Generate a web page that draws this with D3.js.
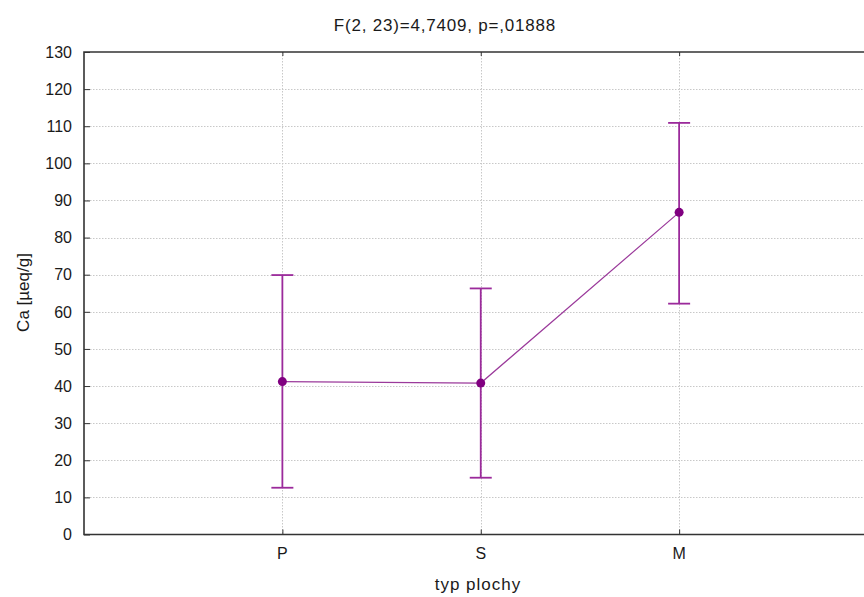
<!DOCTYPE html>
<html><head><meta charset="utf-8">
<script src="https://cdn.jsdelivr.net/npm/d3@7"></script>
<style>body{margin:0;background:#fff}svg{display:block}text{font-family:"Liberation Sans",Arial,sans-serif;fill:#1a1a1a}</style>
</head><body><svg id="c" width="864" height="597"></svg>
<script>
const categories = ["P", "S", "M"];
const means = [41.2, 40.8, 86.8];
const upper = [69.9, 66.3, 110.9];
const lower = [12.6, 15.3, 62.2];
const yTicks = [0,10,20,30,40,50,60,70,80,90,100,110,120,130];
const title = "F(2, 23)=4,7409, p=,01888";
const xLabel = "typ plochy";
const yLabel = "Ca [µeq/g]";

const svg = d3.select("#c");
const L = 84, T = 52, B = 534.5, R = 877.5;
const x = d3.scalePoint().domain(["", ...categories, " "]).range([L, R]);
const y = d3.scaleLinear().domain([0, 130]).range([B, T]);
const col = "#800080";

// grid
svg.append("g").selectAll("line").data(yTicks.slice(1, -1)).join("line")
  .attr("x1", L).attr("x2", R).attr("y1", d => Math.round(y(d)) + 0.5).attr("y2", d => Math.round(y(d)) + 0.5)
  .attr("stroke", "#c8c8c8").attr("stroke-dasharray", "1.5,1.5");
svg.append("g").selectAll("line").data(categories).join("line")
  .attr("x1", d => Math.round(x(d)) + 0.5).attr("x2", d => Math.round(x(d)) + 0.5).attr("y1", T).attr("y2", B)
  .attr("stroke", "#c8c8c8").attr("stroke-dasharray", "1.5,1.5");

// axes
const ya = svg.append("g").attr("transform", `translate(${L},0)`)
  .call(d3.axisRight(y).tickValues(yTicks).tickSize(6).tickFormat(""));
ya.select(".domain").remove();
ya.selectAll("line").attr("stroke", "#333");
svg.append("g").selectAll("text").data(yTicks).join("text")
  .attr("x", 72).attr("y", d => y(d)).attr("dy", "0.36em").attr("text-anchor", "end")
  .style("font-size", "16px").text(d => d);

const xa = svg.append("g").attr("transform", `translate(0,${B})`)
  .call(d3.axisTop(x).tickValues(categories).tickSize(5).tickFormat(""));
xa.select(".domain").remove();
xa.selectAll("line").attr("stroke", "#333");
const xt = svg.append("g").attr("transform", `translate(0,${T})`)
  .call(d3.axisBottom(x).tickValues(categories).tickSize(4).tickFormat(""));
xt.select(".domain").remove();
xt.selectAll("line").attr("stroke", "#333");
svg.append("g").selectAll("text").data(categories).join("text")
  .attr("x", d => x(d)).attr("y", 553).attr("dy", "0.36em").attr("text-anchor", "middle")
  .style("font-size", "16px").text(d => d);

// frame
svg.append("path").attr("d", `M${R},${T}H${L}V${B}H${R}`).attr("fill", "none").attr("stroke", "#333").attr("stroke-width", 1.6);

// connecting line
svg.append("path").datum(categories.map((c, i) => [x(c), y(means[i])]))
  .attr("d", d3.line()).attr("fill", "none").attr("stroke", "#9b3a9b").attr("stroke-width", 1.2);

// error bars
const eb = svg.append("g").attr("stroke", "#9b2a9b").attr("stroke-width", 1.8);
categories.forEach((c, i) => {
  const cx = x(c);
  eb.append("line").attr("x1", cx).attr("x2", cx).attr("y1", y(lower[i])).attr("y2", y(upper[i]));
  eb.append("line").attr("x1", cx - 11).attr("x2", cx + 11).attr("y1", y(lower[i])).attr("y2", y(lower[i]));
  eb.append("line").attr("x1", cx - 11).attr("x2", cx + 11).attr("y1", y(upper[i])).attr("y2", y(upper[i]));
});
svg.append("g").selectAll("circle").data(categories).join("circle")
  .attr("cx", d => x(d)).attr("cy", (d, i) => y(means[i])).attr("r", 4.5).attr("fill", col);

// texts
svg.append("text").attr("x", 445).attr("y", 31).attr("text-anchor", "middle")
  .style("font-size", "17px").style("letter-spacing", "0.8px").text(title);
svg.append("text").attr("x", 478).attr("y", 590).attr("text-anchor", "middle")
  .style("font-size", "17px").style("letter-spacing", "1px").text(xLabel);
svg.append("text").attr("transform", "translate(29,292.5) rotate(-90)").attr("text-anchor", "middle")
  .style("font-size", "17px").text(yLabel);
</script></body></html>
